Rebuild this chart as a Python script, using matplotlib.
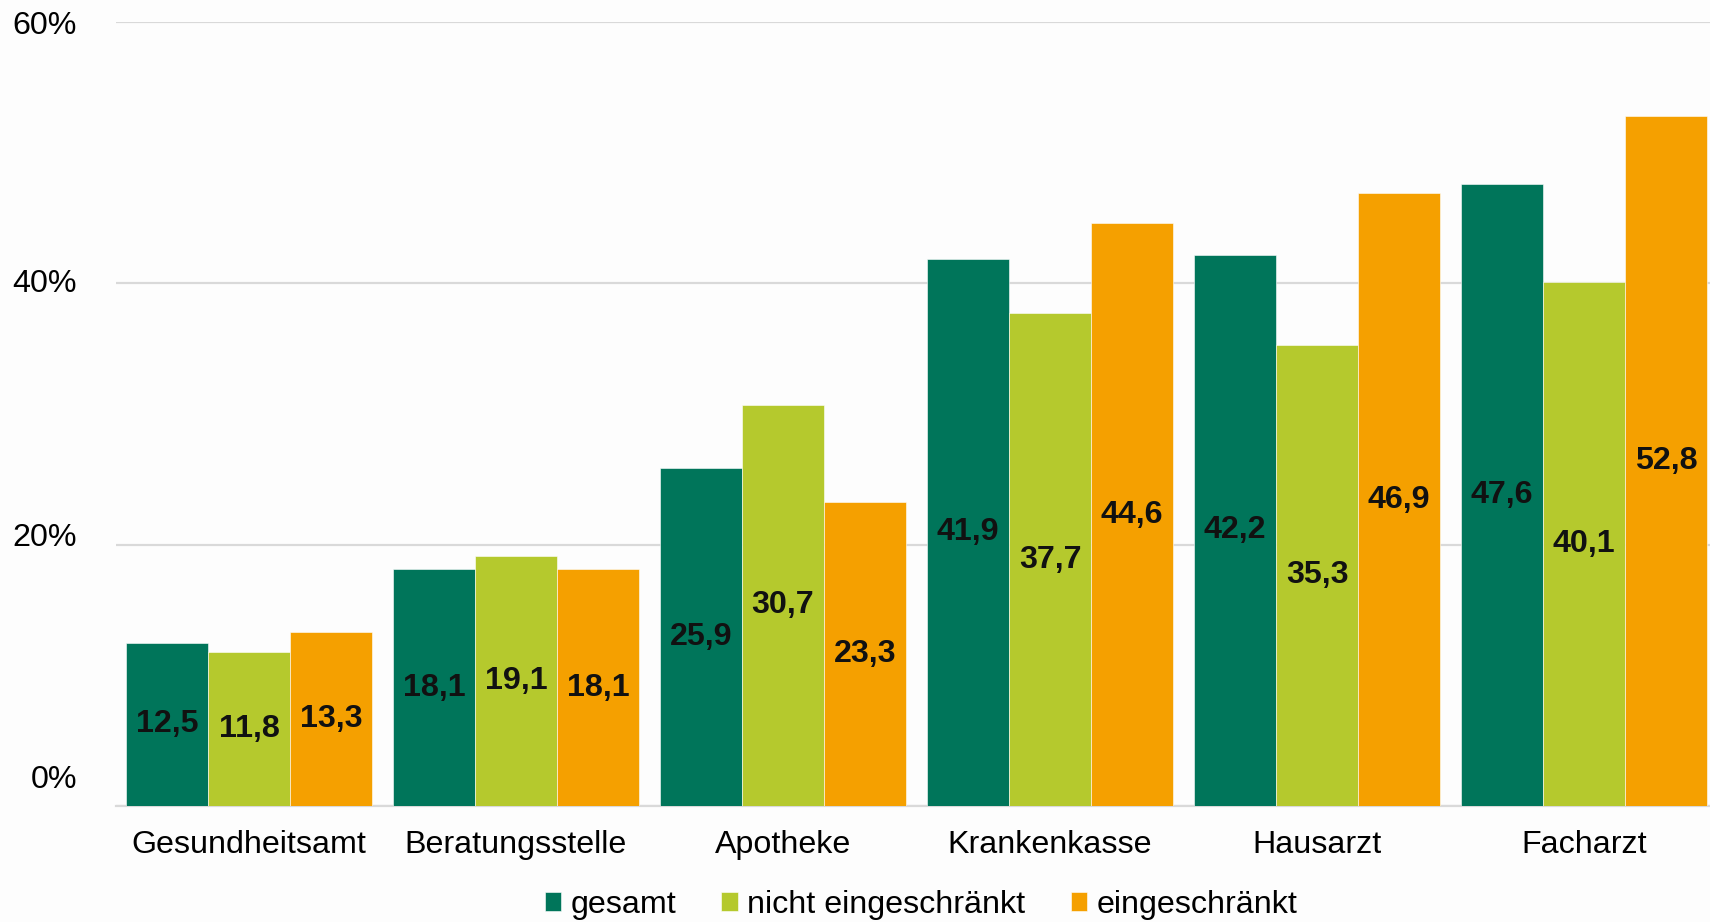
import numpy as np
import matplotlib
matplotlib.use("Agg")
import matplotlib.pyplot as plt
from matplotlib.transforms import ScaledTranslation

plt.rcParams["font.family"] = ["Liberation Sans", "DejaVu Sans"]

categories = ["Gesundheitsamt", "Beratungsstelle", "Apotheke", "Krankenkasse", "Hausarzt", "Facharzt"]
series = ["gesamt", "nicht eingeschränkt", "eingeschränkt"]
gesamt = [12.5, 18.1, 25.9, 41.9, 42.2, 47.6]
nicht_eingeschraenkt = [11.8, 19.1, 30.7, 37.7, 35.3, 40.1]
eingeschraenkt = [13.3, 18.1, 23.3, 44.6, 46.9, 52.8]
yticks = [0, 20, 40, 60]
ytick_labels = ["0%", "20%", "40%", "60%"]

colors = ["#00755A", "#B5C92D", "#F5A000"]
FS = 23.2

fig = plt.figure(figsize=(17.10, 9.22), dpi=100, facecolor="#fdfdfd")
ax = fig.add_axes([116 / 1710, 1 - 806 / 922, 1 - 116 / 1710, (806 - 22) / 922])
ax.set_facecolor("#fdfdfd")

x = np.arange(len(categories))
w = 0.307
for k, (vals, lab, c) in enumerate(zip([gesamt, nicht_eingeschraenkt, eingeschraenkt], series, colors)):
    bars = ax.bar(x + (k - 1) * w, vals, w, color=c, label=lab, zorder=3,
                  edgecolor="#ffffff", linewidth=0.4)
    ax.bar_label(bars, labels=[f"{v:.1f}".replace(".", ",") for v in vals],
                 label_type="center", fontsize=FS, fontweight="bold", color="#111111")

ax.set_xlim(-0.498, 5.472)
ax.set_ylim(0, 60)
ax.set_yticks(yticks)
ax.set_yticklabels(ytick_labels)
ax.set_xticks(x)
ax.set_xticklabels(categories)
ax.tick_params(axis="y", length=0, pad=28, labelsize=FS)
ax.tick_params(axis="x", length=0, pad=17, labelsize=FS)
ax.yaxis.grid(True, color="#d9d9d9", linewidth=1.6, zorder=0)
ax.set_axisbelow(True)
for s in ["left", "right", "top"]:
    ax.spines[s].set_visible(False)
ax.spines["bottom"].set_color("#d9d9d9")
ax.spines["bottom"].set_linewidth(1.6)

# the original's y labels sit a little off their gridlines
shifts = [30, 10, 3, 0]
for lbl, dy in zip(ax.get_yticklabels(), shifts):
    lbl.set_transform(lbl.get_transform() + ScaledTranslation(0, dy / 100, fig.dpi_scale_trans))

fig.legend(loc="center", bbox_to_anchor=(921 / 1710, 1 - 905 / 922), ncol=3, frameon=False,
           fontsize=FS, handlelength=0.51, handleheight=0.54, handletextpad=0.29,
           columnspacing=1.4, borderpad=0)

fig.savefig("out.png", dpi=100, facecolor=fig.get_facecolor())
